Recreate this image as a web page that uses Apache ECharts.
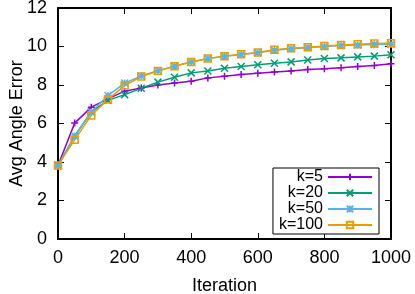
<!DOCTYPE html>
<html>
<head>
<meta charset="utf-8">
<script src="https://cdn.jsdelivr.net/npm/echarts@6/dist/echarts.min.js"></script>
<style>html,body{margin:0;padding:0;background:#fff}#c{width:415px;height:294px}</style>
</head>
<body>
<div id="c"></div>
<script>
const iterations = [0,50,100,150,200,250,300,350,400,450,500,550,600,650,700,750,800,850,900,950,1000];
const k5   = [3.82,6.02,6.85,7.28,7.68,7.85,8.00,8.10,8.20,8.37,8.46,8.55,8.61,8.68,8.73,8.80,8.84,8.89,8.96,9.01,9.10];
const k20  = [3.82,5.35,6.60,7.20,7.50,7.83,8.15,8.40,8.63,8.73,8.87,8.96,9.05,9.13,9.20,9.30,9.38,9.41,9.46,9.50,9.57];
const k50  = [3.82,5.35,6.60,7.45,8.10,8.47,8.74,8.98,9.20,9.37,9.49,9.58,9.67,9.80,9.88,9.94,10.00,10.05,10.08,10.11,10.12];
const k100 = [3.82,5.15,6.42,7.25,7.97,8.44,8.73,8.98,9.20,9.38,9.50,9.60,9.69,9.83,9.91,9.96,10.03,10.08,10.12,10.16,10.17];
const seriesNames = ['k=5','k=20','k=50','k=100'];
const xTicks = [0,200,400,600,800,1000];
const yTicks = [0,2,4,6,8,10,12];

const colors = ['#9400d3','#009e73','#56b4e9','#e69f00'];
const symbols = [
  'path://M0,5H10M5,0V10',
  'path://M0,0L10,10M10,0L0,10',
  'path://M0,0L10,10M10,0L0,10M5,0V10M0,5H10',
  'rect'
];
const font = 'Liberation Sans, Arial, sans-serif';
const datasets = [k5,k20,k50,k100];

const series = datasets.map((d,i)=>({
  name: seriesNames[i],
  type: 'line',
  xAxisIndex: 0, yAxisIndex: 0,
  data: d.map((v,j)=>[iterations[j], v]),
  color: colors[i],
  symbol: symbols[i],
  symbolSize: 7,
  showAllSymbol: true,
  lineStyle: {color: colors[i], width: 1.5},
  itemStyle: {color: 'none', borderColor: colors[i], borderWidth: 1.5},
  emphasis: {disabled: true},
  animation: false
}));

const axisCommon = {
  axisLine: {show: true, onZero: false, lineStyle: {color: '#000', width: 2}},
  axisTick: {show: true, inside: true, length: 6, lineStyle: {color: '#000', width: 1}},
  splitLine: {show: false}
};

const chart = echarts.init(document.getElementById('c'), null, {renderer: 'canvas'});
chart.setOption({
  animation: false,
  backgroundColor: '#fff',
  grid: {left: 58, right: 24, top: 8, bottom: 55, containLabel: false, outerBoundsMode: 'none'},
  legend: {
    orient: 'vertical',
    right: 36, bottom: 60,
    align: 'right',
    itemWidth: 44, itemHeight: 8, itemGap: 0,
    padding: [1, 6, 1, 6],
    borderColor: '#000', borderWidth: 1, borderRadius: 0,
    backgroundColor: '#fff',
    textStyle: {fontFamily: font, fontSize: 16, lineHeight: 15, color: '#000'},
    data: seriesNames
  },
  xAxis: [
    Object.assign({
      type: 'value', min: 0, max: 1000, interval: 200, position: 'bottom',
      name: 'Iteration', nameLocation: 'middle', nameGap: 38, nameMoveOverlap: false,
      nameTextStyle: {fontFamily: font, fontSize: 18, color: '#000'},
      axisLabel: {fontFamily: font, fontSize: 18, color: '#000', margin: 10,
        formatter: v => xTicks.includes(v) ? String(v) : ''}
    }, axisCommon),
    Object.assign({
      type: 'value', min: 0, max: 1000, interval: 200, position: 'top',
      axisLabel: {show: false}
    }, axisCommon)
  ],
  yAxis: [
    Object.assign({
      type: 'value', min: 0, max: 12, interval: 2, position: 'left',
      name: 'Avg Angle Error', nameLocation: 'middle', nameGap: 32, nameMoveOverlap: false,
      nameTextStyle: {fontFamily: font, fontSize: 18, color: '#000'},
      axisLabel: {fontFamily: font, fontSize: 18, color: '#000', margin: 11,
        formatter: v => yTicks.includes(v) ? String(v) : ''}
    }, axisCommon),
    Object.assign({
      type: 'value', min: 0, max: 12, interval: 2, position: 'right',
      axisLabel: {show: false}
    }, axisCommon)
  ],
  series: series
});
</script>
</body>
</html>
